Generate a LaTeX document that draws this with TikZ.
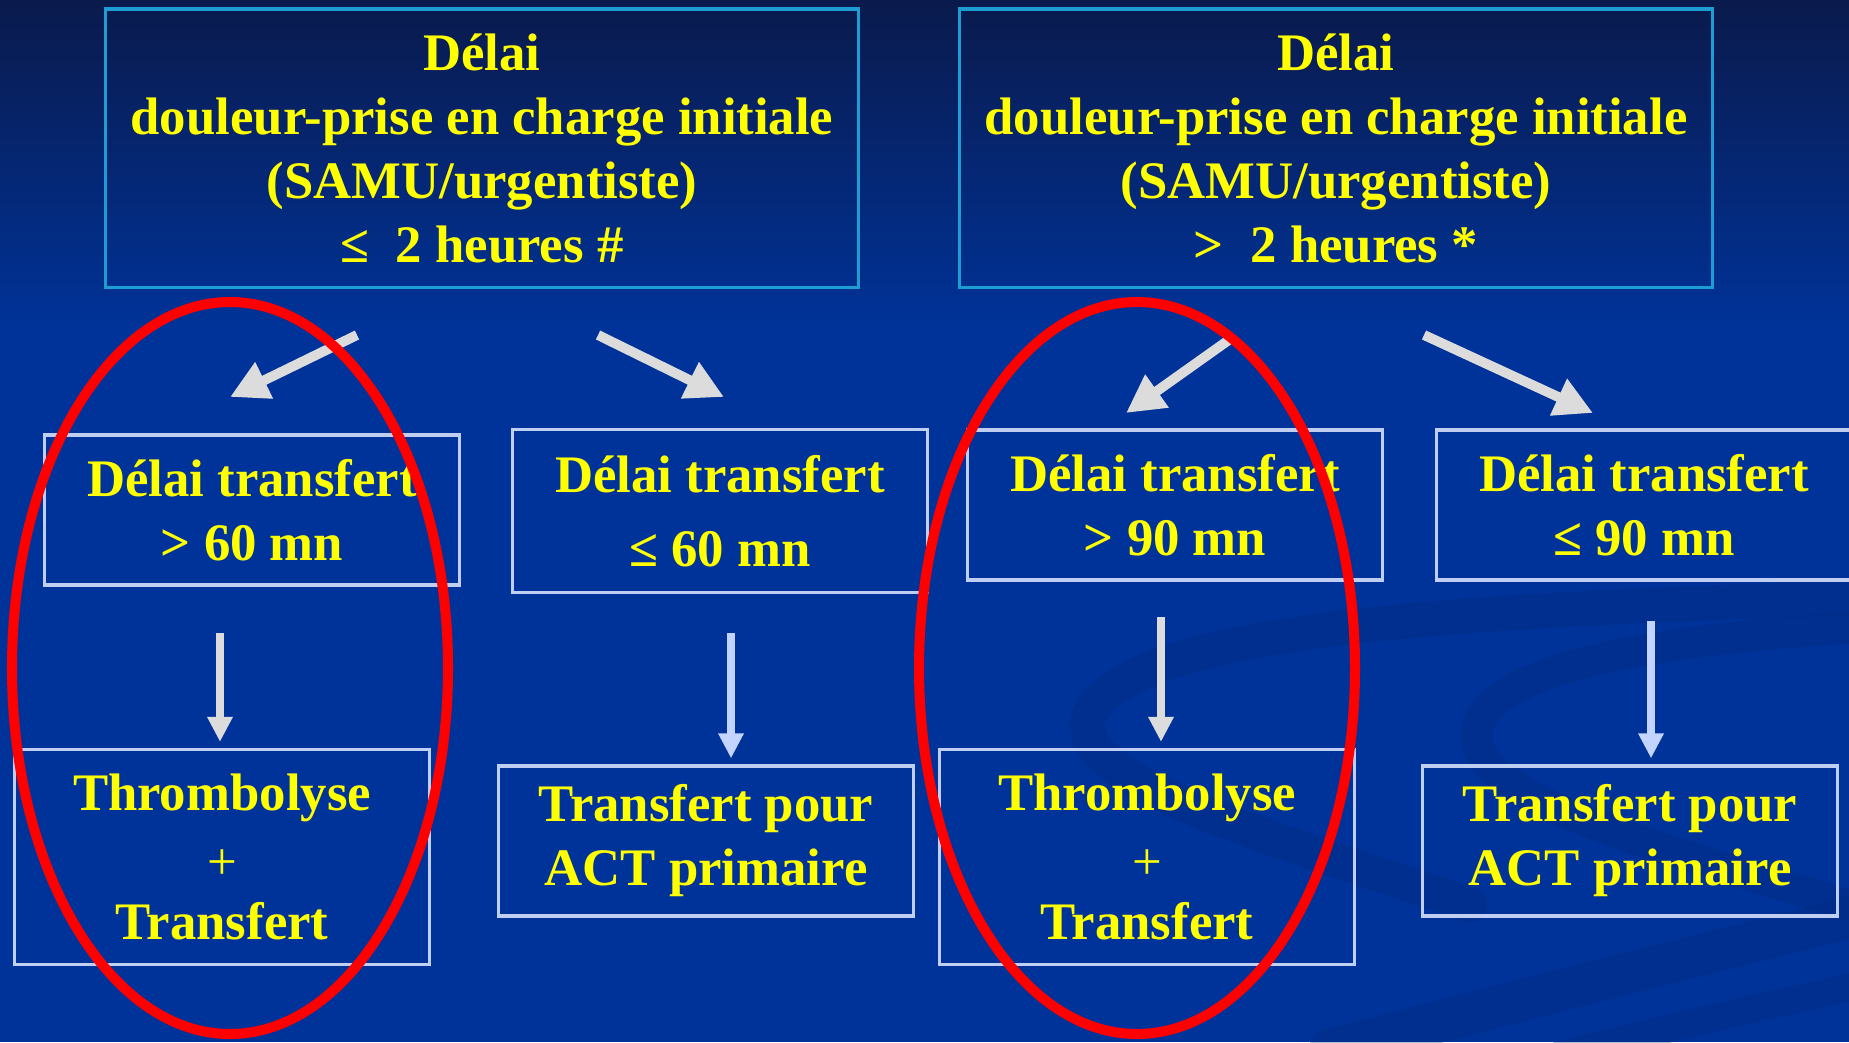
\documentclass[tikz,border=0pt]{standalone}
\usepackage{fontspec}
\setmainfont{Liberation Serif}
\usetikzlibrary{arrows.meta}

\definecolor{slideblue}{HTML}{003399}
\definecolor{slidenavy}{HTML}{0A1A4C}
\definecolor{swooshblue}{HTML}{00287E}
\definecolor{textyellow}{HTML}{FFFF00}
\definecolor{topframe}{HTML}{1E9CD4}
\definecolor{boxframe}{HTML}{C0CEF2}
\definecolor{arrowgrey}{HTML}{DCDCDC}
\definecolor{arrowblue}{HTML}{C2D4FF}

\tikzset{
    slidetext/.style={text=textyellow, font=\fontsize{15pt}{18.2pt}\selectfont\bfseries, align=center, inner sep=0pt},
    topbox/.style={slidetext, draw=topframe, line width=0.9pt, minimum width=7.52cm, minimum height=2.78cm},
    delaybox/.style={slidetext, draw=boxframe, line width=0.9pt, minimum width=4.14cm, minimum height=1.5cm},
    fatarrow/.style={draw=arrowgrey, line width=2.8pt, -{Triangle[length=0.38cm,width=0.38cm]}},
    thinarrow/.style={line width=2.2pt, -{Triangle[length=0.25cm,width=0.24cm]}},
    circled/.style={draw=red, line width=2.85pt},
    swoosh/.style={draw=swooshblue, opacity=0.3, line cap=round},
}

\begin{document}
\begin{tikzpicture}[x=0.01cm, y=-0.01cm]
    % Background
    \useasboundingbox (0,0) rectangle (1849,1042);
    \fill[slideblue] (0,0) rectangle (1849,1042);
    \shade[top color=slidenavy, bottom color=slideblue] (0,0) rectangle (1849,330);
    \draw[swoosh, line width=10pt] (1849,598) .. controls (1480,610) and (1160,625) .. (1095,705) .. controls (1045,775) and (1250,830) .. (1470,905);
    \draw[swoosh, line width=9pt] (1849,628) .. controls (1660,640) and (1500,665) .. (1478,725) .. controls (1460,790) and (1610,835) .. (1849,905);
    \draw[swoosh, line width=12pt] (1330,1050) .. controls (1540,995) and (1700,955) .. (1860,915);
    \draw[swoosh, line width=8pt] (1560,1055) .. controls (1680,1025) and (1770,1005) .. (1860,985);

    % Initial delay
    \node[topbox] (prise1) at (482,148) {Délai\\douleur-prise en charge initiale\\(SAMU/urgentiste)\\≤\ \ 2 heures \#};
    \node[topbox] (prise2) at (1336,148) {Délai\\douleur-prise en charge initiale\\(SAMU/urgentiste)\\>\ \ 2 heures *};

    % Transfer delay
    \node[delaybox] (transfert1) at (252,510) {Délai transfert\\> 60 mn};
    \node[delaybox, minimum height=1.63cm] (transfert2) at (720,511) {Délai transfert\\[2.8pt]≤ 60 mn};
    \node[delaybox] (transfert3) at (1175,505) {Délai transfert\\> 90 mn};
    \node[delaybox] (transfert4) at (1644,505) {Délai transfert\\≤ 90 mn};

    % Strategy
    \node[delaybox, minimum width=4.15cm, minimum height=2.15cm] (strategie1) at (222,857) {Thrombolyse\\[1.5pt]{\mdseries +}\\[-1pt]Transfert};
    \node[delaybox] (strategie2) at (706,841) {Transfert pour\\ACT primaire};
    \node[delaybox, minimum width=4.15cm, minimum height=2.15cm] (strategie3) at (1147,857) {Thrombolyse\\[1.5pt]{\mdseries +}\\[-1pt]Transfert};
    \node[delaybox] (strategie4) at (1630,841) {Transfert pour\\ACT primaire};

    % Arrows
    \coordinate (d1a) at (357,335); \coordinate (d1b) at (230,397);
    \coordinate (d2a) at (598,335); \coordinate (d2b) at (724,397);
    \coordinate (d3a) at (1233,337); \coordinate (d3b) at (1126,413);
    \coordinate (d4a) at (1424,335); \coordinate (d4b) at (1593,413);
    \foreach \i in {1,2,3,4} {
        \draw[fatarrow] (d\i a) -- (d\i b);
    }
    \coordinate (v1) at (220,633);
    \coordinate (v2) at (731,633);
    \coordinate (v3) at (1161,617);
    \coordinate (v4) at (1651,621);
    \foreach \i/\c in {1/arrowgrey,2/arrowblue,3/arrowgrey,4/arrowblue} {
        \draw[thinarrow, draw=\c, fill=\c, shorten >=0.06cm] (v\i) -- (v\i |- strategie\i.north);
    }

    % Circled choices
    \draw[circled] (230,668) ellipse (218 and 366);
    \draw[circled] (1137,668) ellipse (218 and 366);
\end{tikzpicture}
\end{document}
